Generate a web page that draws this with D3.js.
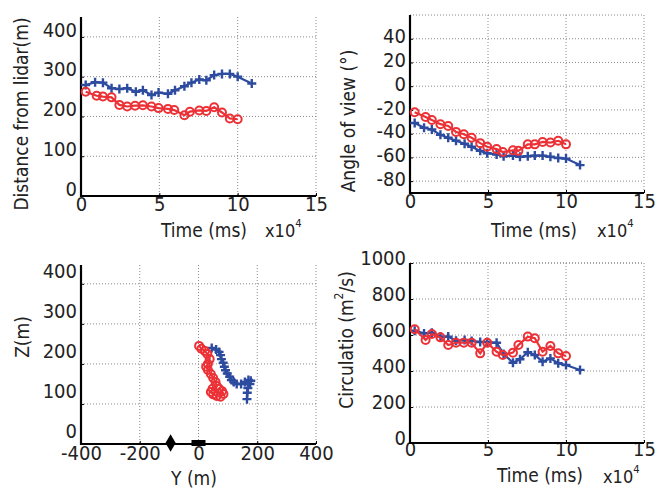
<!DOCTYPE html>
<html><head><meta charset="utf-8">
<script src="https://cdn.jsdelivr.net/npm/d3@7"></script>
<style>
html,body{margin:0;padding:0;background:#fff;}
svg text{font-family:'Liberation Sans Narrow','Arial Narrow','DejaVu Sans Condensed',sans-serif;fill:#222;}
</style></head><body>
<svg id="c" width="657" height="488"></svg>
<script>
// ---- data (time in units of 10^4 ms) ----
const timeBlue = [0.3,0.9,1.4,1.95,2.45,2.95,3.5,3.95,4.5,4.95,5.55,6.0,6.6,7.05,7.55,8.0,8.5,9.0,9.5,10.0,10.9];
const timeRed  = [0.3,1.0,1.4,1.95,2.45,2.95,3.45,3.95,4.5,4.95,5.55,5.95,6.6,6.95,7.55,8.0,8.5,9.0,9.5,10.0];

const distBlue = [279,286,285,271,269,271,262,266,254,260,257,266,276,285,293,291,304,307,307,300,283];
const distRed  = [262,252,250,248,229,225,227,228,225,221,219,216,203,212,215,214,223,210,195,193];

const angleBlue = [-31,-35,-36.5,-41,-43.5,-46,-48.5,-51,-54.5,-56.5,-57.5,-59,-58.5,-59.5,-59,-58.5,-58.5,-59.5,-60.5,-61,-66.5];
const angleRed  = [-22,-26,-28.5,-32,-33.5,-38.5,-40.5,-43.5,-48,-51,-53,-55.5,-54,-54.5,-49,-49,-47,-47.5,-46,-49];

const circBlue = [624,609,613,591,591,568,572,567,561,561,557,495,446,465,504,489,452,470,443,433,406];
const circRed  = [632,572,606,587,544,557,557,557,498,557,507,489,502,544,591,582,507,539,498,483];

const yBlue = [45,60,70,75,78,84,88,92,98,106,112,120,130,145,158,170,178,175,168,166,165];
const zBlue = [240,236,230,222,212,203,193,184,176,168,160,155,150,150,155,160,158,150,140,128,112];
const yRed  = [2,10,22,30,38,32,26,32,42,50,58,62,48,42,50,62,75,85,80,70];
const zRed  = [245,238,232,225,212,200,193,185,175,165,155,145,138,130,124,120,118,125,132,138];

const lidarPos = [{y:-95, z:0}];   // diamond
const sitePos  = [{y:0, z:0}];     // rectangle

const timeTicks = [0,5,10,15];
const distTicks = [0,100,200,300,400];
const angleTicks = [-80,-60,-40,-20,0,20,40];
const zTicks = [0,100,200,300,400];
const yTicks = [-400,-200,0,200,400];
const circTicks = [0,200,400,600,800,1000];

const BLUE = "#2d4b9f", RED = "#ec3136";
const TICK_FS = 20;
const svg = d3.select("#c");

function panel(o){
  const g = svg.append("g");
  const x = d3.scaleLinear().domain(o.xd).range([o.l, o.r]);
  const y = d3.scaleLinear().domain(o.yd).range([o.b, o.t]);
  // grid
  const grid = g.append("g").attr("stroke","#8a8a8a").attr("stroke-width",1).attr("stroke-dasharray","1,2");
  o.xt.forEach(v=>{ if(x(v)>o.l+2) grid.append("line").attr("x1",x(v)).attr("x2",x(v)).attr("y1",o.t).attr("y2",o.b); });
  o.yt.forEach(v=>{ if(y(v)<o.b-2) grid.append("line").attr("x1",o.l).attr("x2",o.r).attr("y1",y(v)).attr("y2",y(v)); });
  if(o.topLine) grid.append("line").attr("x1",o.l).attr("x2",o.r).attr("y1",o.t).attr("y2",o.t);
  // axes
  const ax = g.append("g").attr("transform",`translate(0,${o.b})`)
    .call(d3.axisBottom(x).tickValues(o.xt).tickSize(-3).tickPadding(4).tickFormat(d=>d));
  ax.select(".domain").remove();
  ax.selectAll("line").attr("stroke","#000");
  ax.selectAll("text").attr("font-size",TICK_FS).attr("dy","0.55em").attr("y",o.xlo||4);
  const ay = g.append("g").attr("transform",`translate(${o.l},0)`)
    .call(d3.axisLeft(y).tickValues(o.yt).tickSize(-3).tickPadding(4).tickFormat(d=>d));
  ay.select(".domain").remove();
  ay.selectAll("line").attr("stroke","#000");
  ay.selectAll("text").attr("font-size",TICK_FS).attr("dy",(0.36*TICK_FS - o.lo)+"px");
  g.append("line").attr("x1",o.l).attr("x2",o.l).attr("y1",o.t).attr("y2",o.b+1).attr("stroke","#000").attr("stroke-width",2.2);
  g.append("line").attr("x1",o.l-1).attr("x2",o.r).attr("y1",o.b).attr("y2",o.b).attr("stroke","#000").attr("stroke-width",2.2);
  // series
  const line = d3.line().x(d=>x(d[0])).y(d=>y(d[1]));
  o.series.forEach(s=>{
    const pts = s.x.map((v,i)=>[v,s.y[i]]);
    g.append("path").attr("d",line(pts)).attr("fill","none").attr("stroke",s.c).attr("stroke-width",2.2);
    const m = g.append("g");
    pts.forEach(p=>{
      if(s.m==="+"){
        m.append("path").attr("transform",`translate(${x(p[0])},${y(p[1])})`)
          .attr("d","M-4.5,0H4.5M0,-4.5V4.5").attr("stroke",s.c).attr("stroke-width",2.4);
      } else {
        m.append("circle").attr("cx",x(p[0])).attr("cy",y(p[1])).attr("r",4)
          .attr("fill","none").attr("stroke",s.c).attr("stroke-width",2);
      }
    });
  });
  return {g,x,y};
}

function xLabel(px,py,txt,size){ svg.append("text").attr("x",px).attr("y",py).attr("text-anchor","middle").attr("dominant-baseline","central").attr("font-size",size).text(txt); }
function yLabel(px,py,txt,size){ svg.append("text").attr("transform",`translate(${px},${py}) rotate(-90)`).attr("text-anchor","middle").attr("dominant-baseline","central").attr("font-size",size).text(txt); }
function exp10(px,py,size){
  const t = svg.append("text").attr("x",px).attr("y",py).attr("dominant-baseline","central").attr("font-size",size);
  t.append("tspan").text("x10");
  t.append("tspan").attr("font-size",size*0.62).attr("dy",-7).text("4");
}

// Panel 1
panel({l:81,r:316,t:17,b:196,xd:[0,15],yd:[0,450],xt:timeTicks,yt:distTicks,lo:8,
  series:[{x:timeBlue,y:distBlue,c:BLUE,m:"+"},{x:timeRed,y:distRed,c:RED,m:"o"}]});
yLabel(21,114,"Distance from lidar(m)",19);
xLabel(204,230,"Time (ms)",19);
exp10(265,230,18);

// Panel 2
panel({l:410,r:644,t:15,b:193,xd:[0,15],yd:[-90,60],xt:timeTicks,yt:angleTicks,lo:3,topLine:true,
  series:[{x:timeBlue,y:angleBlue,c:BLUE,m:"+"},{x:timeRed,y:angleRed,c:RED,m:"o"}]});
yLabel(348,121,"Angle of view  (°)",19);
xLabel(534,230,"Time (ms)",19);
exp10(597,230,18);

// Panel 3
const p3 = panel({l:81,r:316,t:265,b:444,xd:[-400,400],yd:[0,447],xt:yTicks,yt:zTicks,lo:14,xlo:5,
  series:[{x:yBlue,y:zBlue,c:BLUE,m:"+"},{x:yRed,y:zRed,c:RED,m:"o"}]});
p3.g.selectAll(".lidar").data(lidarPos).join("path").attr("class","lidar")
  .attr("transform",d=>`translate(${p3.x(d.y)},${p3.y(d.z)-1})`)
  .attr("d",d3.symbol(d3.symbolDiamond,90)).attr("fill","#000");
p3.g.selectAll(".site").data(sitePos).join("rect").attr("class","site")
  .attr("x",d=>p3.x(d.y)-7).attr("y",d=>p3.y(d.z)-4).attr("width",14).attr("height",6).attr("fill","#000");
yLabel(22,337,"Z(m)",19);
xLabel(194,478,"Y (m)",19);

// Panel 4
panel({l:410,r:644,t:263,b:443,xd:[0,15],yd:[0,1000],xt:timeTicks,yt:circTicks,lo:6,xlo:2,topLine:true,
  series:[{x:timeBlue,y:circBlue,c:BLUE,m:"+"},{x:timeRed,y:circRed,c:RED,m:"o"}]});
(function(){
  const t = svg.append("text").attr("transform","translate(346,340) rotate(-90)").attr("text-anchor","middle").attr("dominant-baseline","central").attr("font-size",19);
  t.append("tspan").text("Circulatio (m");
  t.append("tspan").attr("font-size",12).attr("dy",-7).text("2");
  t.append("tspan").attr("dy",7).text("/s)");
})();
xLabel(540,475,"Time (ms)",19);
exp10(603,476,18);
</script>
</body></html>
